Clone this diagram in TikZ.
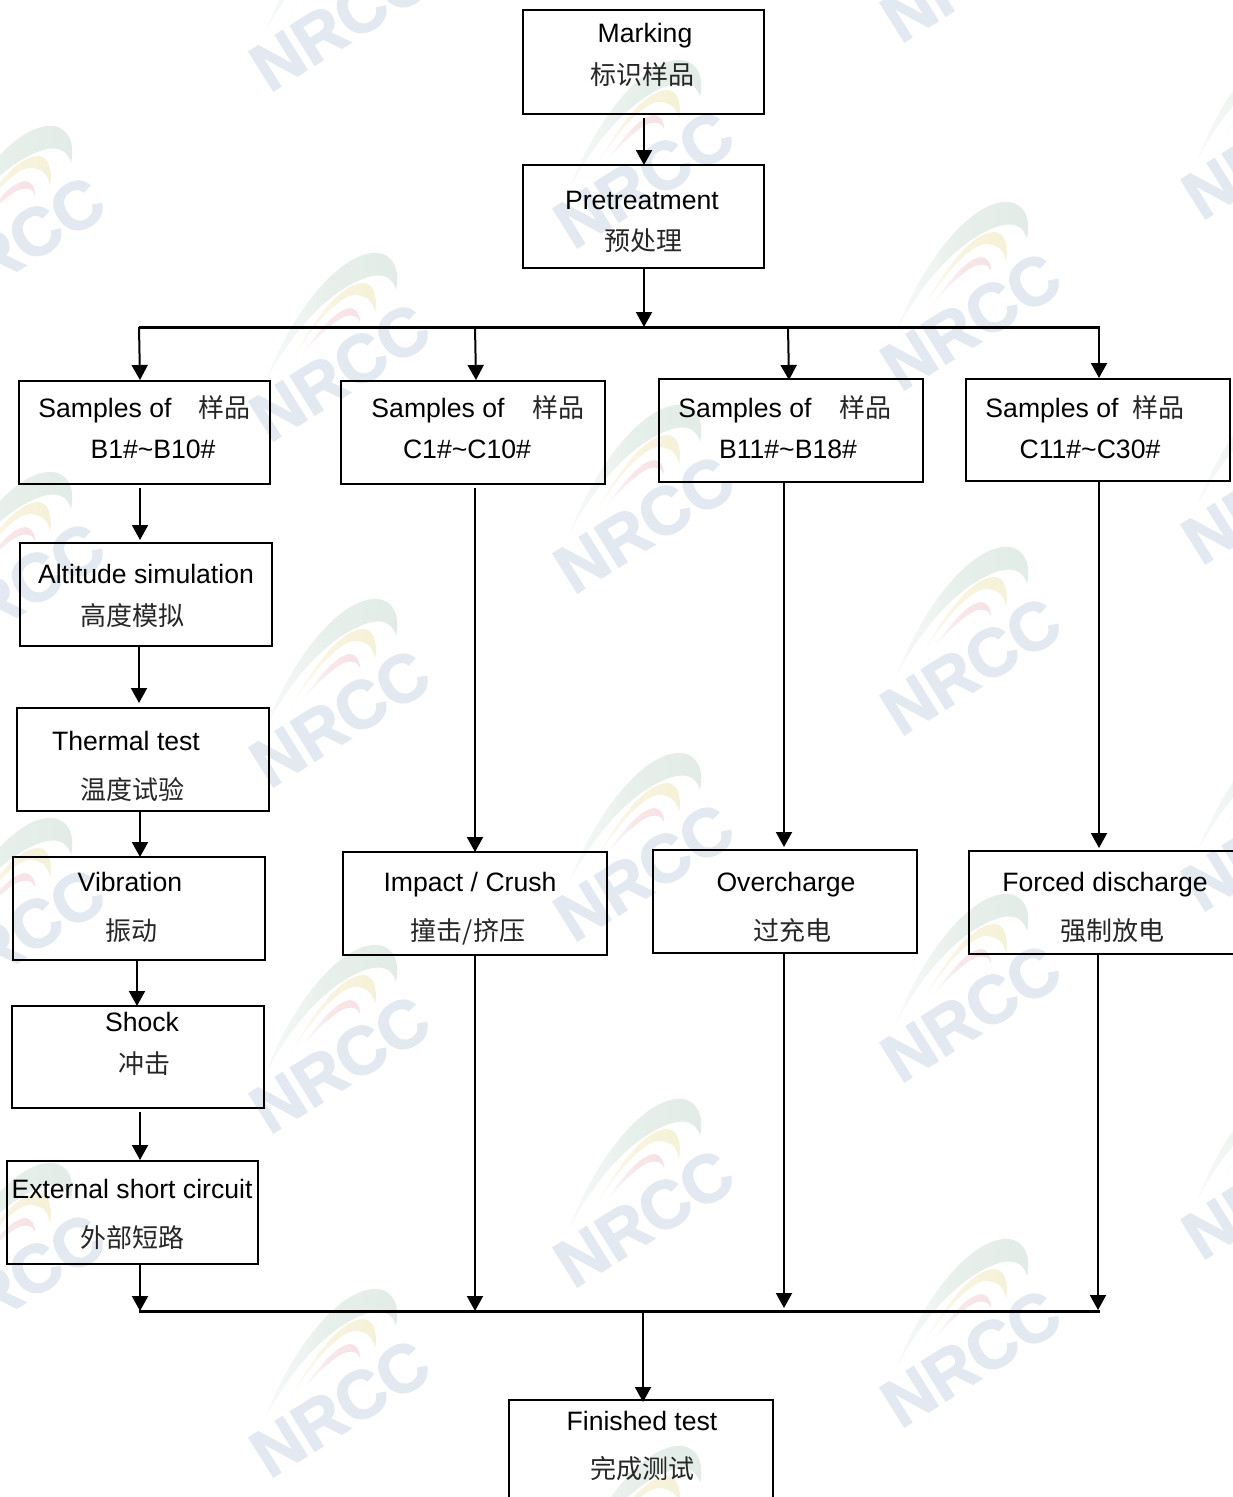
\documentclass[tikz,border=0pt]{standalone}
\usepackage{fontspec}
\setmainfont{Liberation Sans}
\newfontfamily\cjk{Noto Sans CJK SC}
\newfontfamily\wmf[BoldFeatures={FakeBold=2}]{Liberation Sans}
\usetikzlibrary{arrows.meta,fit,calc}
\definecolor{wmblue}{HTML}{E2E9F1}
\definecolor{wmgreen}{HTML}{E2ECE6}
\definecolor{wmyellow}{HTML}{F6F1D8}
\definecolor{wmpink}{HTML}{F7E2E5}
\tikzset{
  boxn/.style={draw=black,line width=2pt,inner sep=0pt,outer sep=0pt},
  entext/.style={anchor=base,inner sep=0pt,font=\fontsize{26.6}{30}\selectfont},
  cntext/.style={anchor=base,inner sep=0pt,text=black!85,font=\cjk\fontsize{26}{30}\selectfont},
  arr/.style={line width=2pt,-{Triangle[width=16pt,length=15pt]}},
  rail/.style={line width=3pt},
  wmtext/.style={text=wmblue,rotate=32,inner sep=0pt,font=\wmf\bfseries\fontsize{67.5}{72}\selectfont}
}
\newcommand{\wmark}[3]{%
  \begin{scope}[shift={(#1,#2)}]
    \shade[left color=wmgreen!25,right color=wmgreen,middle color=wmgreen!85] (-75,8) .. controls (-50,-60) and (0,-125) .. (38,-122) .. controls (54,-120) and (60,-105) .. (56,-85) .. controls (52,-100) and (40,-102) .. (25,-97) .. controls (-15,-82) and (-50,-40) .. (-75,8);
    \shade[left color=wmyellow!25,right color=wmyellow,middle color=wmyellow!85] (-50,-12) .. controls (-30,-50) and (0,-92) .. (23,-92) .. controls (33,-92) and (38,-80) .. (35,-62) .. controls (33,-76) and (25,-80) .. (13,-80) .. controls (-5,-76) and (-30,-45) .. (-50,-12);
    \shade[left color=wmpink!25,right color=wmpink,middle color=wmpink!85] (-37,-22) .. controls (-20,-45) and (-5,-65) .. (10,-67) .. controls (15,-67) and (20,-62) .. (20,-53) .. controls (18,-59) and (13,-60) .. (7,-59) .. controls (-5,-56) and (-22,-38) .. (-37,-22);
    \node[wmtext] (wm#3) at (0,-3) {NRCC};
  \end{scope}}
\newcommand{\bx}[5]{\node[boxn,fit={(#2,#3) (#4,#5)}] (#1) {};}
\begin{document}
\begin{tikzpicture}[x=1pt,y=-1pt]
\useasboundingbox (0,0) rectangle (1233,1497);
\clip (0,0) rectangle (1233,1497);
% watermarks
\wmark{340}{25}{a1}\wmark{340}{375}{a2}\wmark{340}{721}{a3}\wmark{340}{1067}{a4}\wmark{340}{1411}{a5}
\wmark{644}{182}{b1}\wmark{644}{527}{b2}\wmark{644}{875}{b3}\wmark{644}{1221}{b4}\wmark{644}{1568}{b5}
\wmark{971}{-24}{c0}\wmark{971}{324}{c1}\wmark{971}{669}{c2}\wmark{971}{1016}{c3}\wmark{971}{1361}{c4}
\wmark{15}{248}{d1}\wmark{15}{594}{d2}\wmark{15}{940}{d3}\wmark{15}{1285}{d4}
\wmark{1272}{153}{e1}\wmark{1272}{498}{e2}\wmark{1272}{845}{e3}\wmark{1272}{1193}{e4}
% boxes
\bx{mark}{523}{10}{764}{114}
\bx{pre}{523}{165}{764}{268}
\bx{sa}{19}{381}{270}{484}
\bx{sb}{341}{381}{605}{484}
\bx{sc}{659}{379}{923}{482}
\bx{sd}{966}{379}{1230}{481}
\bx{alt}{20}{543}{272}{646}
\bx{therm}{17}{708}{269}{811}
\bx{vib}{13}{857}{265}{960}
\bx{shock}{12}{1006}{264}{1108}
\bx{esc}{7}{1161}{258}{1264}
\bx{imp}{343}{852}{607}{955}
\bx{over}{653}{850}{917}{953}
\bx{forced}{969}{851}{1236}{954}
\bx{fin}{509}{1400}{773}{1505}
% texts
\node[entext] (t1) at (645,42) {Marking};
\node[cntext] (t2) at (642,84) {标识样品};
\node[entext] (t3) at (642,209) {Pretreatment};
\node[cntext] (t4) at (643,250) {预处理};
\node[entext] (t5) at (105,417) {Samples of};
\node[cntext] (t6) at (224,417) {样品};
\node[entext] (t7) at (153,458) {B1\#\textasciitilde B10\#};
\node[entext] (t8) at (438,417) {Samples of};
\node[cntext] (t9) at (558,417) {样品};
\node[entext] (t10) at (467,458) {C1\#\textasciitilde C10\#};
\node[entext] (t11) at (745,417) {Samples of};
\node[cntext] (t12) at (865,417) {样品};
\node[entext] (t13) at (788,458) {B11\#\textasciitilde B18\#};
\node[entext] (t14) at (1052,417) {Samples of};
\node[cntext] (t15) at (1158,417) {样品};
\node[entext] (t16) at (1090,458) {C11\#\textasciitilde C30\#};
\node[entext] (t17) at (146,583) {Altitude simulation};
\node[cntext] (t18) at (132,625) {高度模拟};
\node[entext] (t19) at (126,750) {Thermal test};
\node[cntext] (t20) at (132,799) {温度试验};
\node[entext] (t21) at (130,891) {Vibration};
\node[cntext] (t22) at (131,940) {振动};
\node[entext] (t23) at (142,1031) {Shock};
\node[cntext] (t24) at (144,1073) {冲击};
\node[entext] (t25) at (132,1198) {External short circuit};
\node[cntext] (t26) at (132,1247) {外部短路};
\node[entext] (t27) at (470,891) {Impact / Crush};
\node[cntext] (t28) at (468,940) {撞击/挤压};
\node[entext] (t29) at (786,891) {Overcharge};
\node[cntext] (t30) at (792,940) {过充电};
\node[entext] (t31) at (1105,891) {Forced discharge};
\node[cntext] (t32) at (1112,940) {强制放电};
\node[entext] (t33) at (642,1430) {Finished test};
\node[cntext] (t34) at (642,1478) {完成测试};
% rails
\coordinate (topL) at (139,327);
\coordinate (topR) at (1100,327);
\coordinate (botL) at (139,1311);
\coordinate (botR) at (1100,1311);
\coordinate (vM) at (644,0);
\coordinate (vF) at (643,0);
\coordinate (vA) at (140,0);
\coordinate (vA2) at (139,0);
\coordinate (vA3) at (137,0);
\coordinate (vB) at (475,0);
\coordinate (vB2) at (476,0);
\coordinate (vC) at (784,0);
\coordinate (vC2) at (788,0);
\coordinate (vC3) at (789,0);
\coordinate (vD) at (1099,0);
\coordinate (vD2) at (1098,0);
\draw[rail] (topL) -- (topR);
\draw[rail] (botL) -- (botR);
% connectors
\draw[arr] ($(mark.south -| vM)+(0,4)$) -- (pre.north -| vM);
\draw[arr] (pre.south -| vM) -- ($(topL -| vM)+(0,0)$);
\draw[arr] (topL) -- ($(sa.north -| vA)+(0,-1)$);
\draw[arr] (topL -| vB) -- ($(sb.north -| vB2)+(0,-1)$);
\draw[arr] (topL -| vC2) -- ($(sc.north -| vC3)+(0,1)$);
\draw[arr] (topL -| vD) -- ($(sd.north -| vD)+(0,-1)$);
\draw[arr] ($(sa.south -| vA)+(0,4)$) -- ($(alt.north -| vA)+(0,-3)$);
\draw[arr] ($(alt.south -| vA2)+(0,1)$) -- ($(therm.north -| vA2)+(0,-5)$);
\draw[arr] (therm.south -| vA) -- (vib.north -| vA);
\draw[arr] ($(vib.south -| vA3)+(0,1)$) -- (shock.north -| vA3);
\draw[arr] ($(shock.south -| vA)+(0,4)$) -- ($(esc.north -| vA)+(0,-1)$);
\draw[arr] (esc.south -| vA) -- (botL -| vA);
\draw[arr] ($(sb.south -| vB)+(0,4)$) -- (imp.north -| vB);
\draw[arr] (sc.south -| vC) -- ($(over.north -| vC)+(0,-3)$);
\draw[arr] (sd.south -| vD) -- ($(forced.north -| vD)+(0,-3)$);
\draw[arr] (imp.south -| vB) -- (botL -| vB);
\draw[arr] (over.south -| vC) -- ($(botL -| vC)+(0,-3)$);
\draw[arr] (forced.south -| vD2) -- ($(botL -| vD2)+(0,-1)$);
\draw[arr] (botL -| vF) -- ($(fin.north -| vF)+(0,2)$);
\end{tikzpicture}
\end{document}
